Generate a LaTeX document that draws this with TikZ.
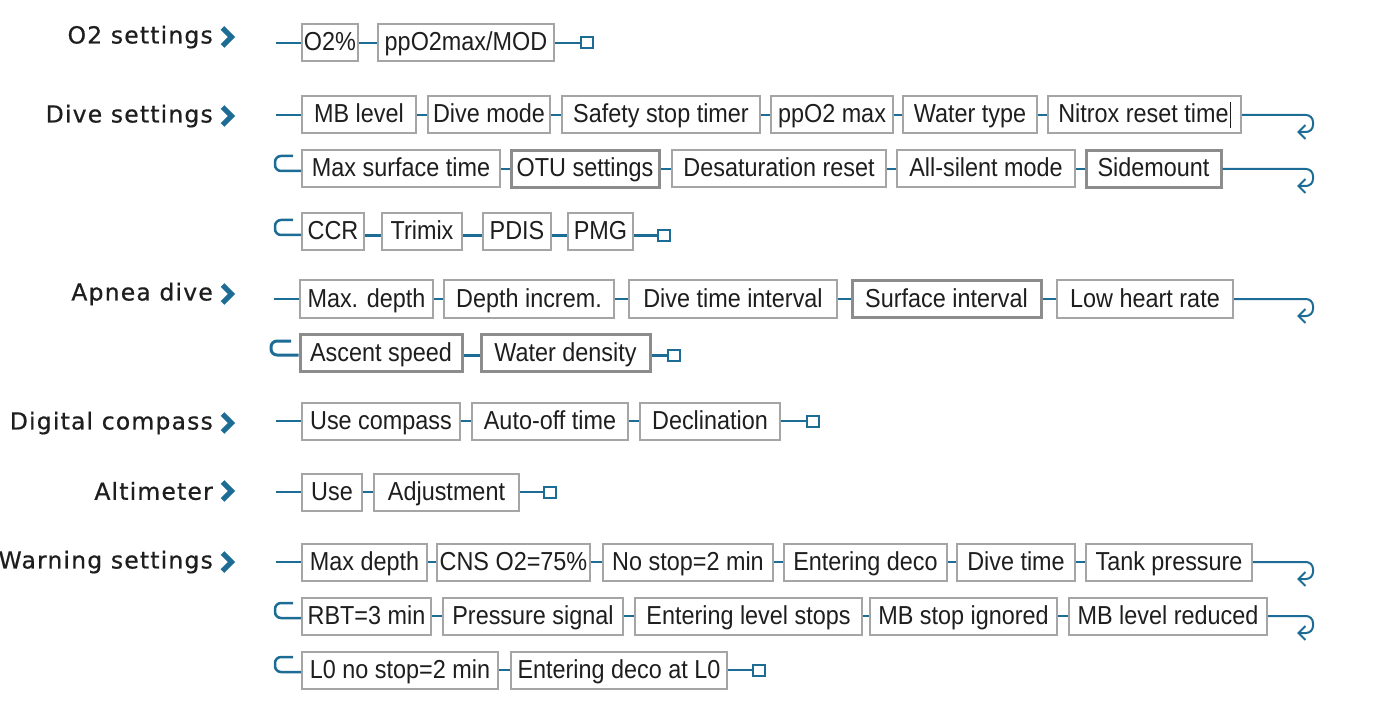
\documentclass[tikz,border=0pt]{standalone}
\usepackage{fontspec}
\newfontfamily\boxfont[FakeStretch=0.9]{Liberation Sans}
\newfontfamily\labfont[LetterSpace=5,FakeBold=0.6]{DejaVu Sans}
\usetikzlibrary{arrows.meta}
\definecolor{cblue}{HTML}{1C6C96}
\definecolor{cgray}{HTML}{A5A5A5}
\definecolor{cdark}{HTML}{8C8C8C}
\definecolor{ctext}{HTML}{1E1E1E}
\newcommand\bx[6][]{\node[box,#1,minimum width={#4-#3}] (#2) at ({(#3+#4)/2},#5) {#6};}
\begin{document}
\begin{tikzpicture}[x=1pt,y=-1pt,
  box/.style={draw=cgray,line width=2pt,fill=white,minimum height=37pt,inner xsep=2pt,inner ysep=0pt,
    text height=21pt,text depth=5pt,
    font=\boxfont\fontsize{26}{26}\selectfont,text=ctext},
  heavybox/.style={draw=cdark,line width=3pt},
  conn/.style={draw=cblue,line width=2pt},
  curl/.style={conn,rounded corners=7pt,-{Straight Barb[length=7pt,width=14pt,line width=2pt]}},
  hook/.style={conn,line width=2.5pt,rounded corners=6pt},
  endsq/.style={draw=cblue,line width=2pt,fill=white,minimum width=12pt,minimum height=11pt,inner sep=0pt},
  lab/.style={anchor=east,inner sep=0pt,font=\labfont\fontsize{23.5}{23.5}\selectfont,text=ctext},
  chev/.style={draw=cblue,line width=5pt,miter limit=10}]
\useasboundingbox (0,0) rectangle (1378,703);

% ---------- labels ----------
\node[lab] (l1) at (213,37) {O2 settings};
\node[lab] (l2) at (213,116) {Dive settings};
\node[lab] (l3) at (213,294) {Apnea dive};
\node[lab] (l4) at (213,423) {Digital compass};
\node[lab] (l5) at (213,491) {Altimeter};
\node[lab] (l6) at (213,562) {Warning settings};
\foreach \c in {37,116,294,423,491,562}
  \draw[chev] (222.5,\c-9) -- (231.5,\c) -- (222.5,\c+9);

% ---------- O2 settings ----------
\coordinate (s1) at (276,43);
\bx{o1}{302}{358}{43}{O2\%}
\bx{o2}{378}{554}{43}{ppO2max/MOD}
\node[endsq] (e1) at (587,43) {};
\draw[conn] (s1) -- (o1.west);
\draw[conn] (o1.east) -- (o2.west);
\draw[conn] (o2.east) -- (e1.west);

% ---------- Dive settings ----------
\coordinate (s2) at (276,115);
\bx{d1}{302}{416}{115}{MB level}
\bx{d2}{428}{550}{115}{Dive mode}
\bx{d3}{562}{760}{115}{Safety stop timer}
\bx{d4}{771}{893}{115}{ppO2 max}
\bx{d5}{903}{1037}{115}{Water type}
\bx{d6}{1048}{1241}{115}{Nitrox reset time\kern1pt\rule[-5pt]{1pt}{26pt}}
\draw[conn] (s2) -- (d1.west);
\draw[conn] (d1.east) -- (d2.west);
\draw[conn] (d2.east) -- (d3.west);
\draw[conn] (d3.east) -- (d4.west);
\draw[conn] (d4.east) -- (d5.west);
\draw[conn] (d5.east) -- (d6.west);
\coordinate (c1) at (1297,132);
\draw[curl] (d6.east) -- (1313,115) -- (1313,132) -- (c1);

\coordinate (h1) at (293,156);
\bx{d7}{302}{500}{169}{Max surface time}
\bx[heavybox]{d8}{511}{659}{169}{OTU settings\hspace{14pt}}
\bx{d9}{672}{886}{169}{Desaturation reset}
\bx{d10}{897}{1075}{169}{All-silent mode}
\bx[heavybox]{d11}{1086}{1221}{169}{Sidemount}
\draw[hook] (h1) -- (275,156) -- (275,171) -- (d7.west |- 0,171);
\draw[conn] (d7.east) -- (d8.west);
\draw[conn] (d8.east) -- (d9.west);
\draw[conn] (d9.east) -- (d10.west);
\draw[conn] (d10.east) -- (d11.west);
\coordinate (c2) at (1297,186);
\draw[curl] (d11.east) -- (1313,169) -- (1313,186) -- (c2);

\coordinate (h2) at (293,220);
\bx{d12}{302}{364}{232}{CCR}
\bx{d13}{382}{462}{232}{Trimix}
\bx{d14}{483}{551}{232}{PDIS}
\bx{d15}{568}{633}{232}{PMG}
\node[endsq] (e2) at (664,236) {};
\draw[hook] (h2) -- (275,220) -- (275,235) -- (d12.west |- 0,235);
\draw[conn,line width=3pt] (d12.east |- e2) -- (d13.west |- e2);
\draw[conn,line width=3pt] (d13.east |- e2) -- (d14.west |- e2);
\draw[conn,line width=3pt] (d14.east |- e2) -- (d15.west |- e2);
\draw[conn,line width=3pt] (d15.east |- e2) -- (e2.west);

% ---------- Apnea dive ----------
\coordinate (s3) at (274,299);
\bx{a1}{300}{433}{299}{Max. depth}
\bx{a2}{444}{614}{299}{Depth increm.}
\bx{a3}{629}{837}{299}{Dive time interval}
\bx[heavybox]{a4}{852}{1041}{299}{Surface interval}
\bx{a5}{1057}{1233}{299}{Low heart rate}
\draw[conn] (s3) -- (a1.west);
\draw[conn] (a1.east) -- (a2.west);
\draw[conn] (a2.east) -- (a3.west);
\draw[conn] (a3.east) -- (a4.west);
\draw[conn] (a4.east) -- (a5.west);
\coordinate (c3) at (1297,316);
\draw[curl] (a5.east) -- (1313,299) -- (1313,316) -- (c3);

\coordinate (h3) at (291,341);
\bx[heavybox]{a6}{300}{462}{353}{Ascent speed}
\bx[heavybox]{a7}{481}{650}{353}{Water density}
\node[endsq] (e3) at (674,355) {};
\draw[hook,line width=3pt] (h3) -- (271,341) -- (271,355) -- (a6.west |- e3);
\draw[conn,line width=3pt] (a6.east |- e3) -- (a7.west |- e3);
\draw[conn,line width=3pt] (a7.east |- e3) -- (e3.west);

% ---------- Digital compass ----------
\coordinate (s4) at (276,421);
\bx{g1}{302}{460}{421}{Use compass}
\bx{g2}{472}{628}{421}{Auto-off time}
\bx{g3}{640}{780}{421}{Declination}
\node[endsq] (e4) at (813,421) {};
\draw[conn] (s4) -- (g1.west);
\draw[conn] (g1.east) -- (g2.west);
\draw[conn] (g2.east) -- (g3.west);
\draw[conn] (g3.east) -- (e4.west);

% ---------- Altimeter ----------
\coordinate (s5) at (276,492);
\bx{t1}{302}{362}{492}{Use}
\bx{t2}{374}{519}{492}{Adjustment}
\node[endsq] (e5) at (550,492) {};
\draw[conn] (s5) -- (t1.west);
\draw[conn] (t1.east) -- (t2.west);
\draw[conn] (t2.east) -- (e5.west);

% ---------- Warning settings ----------
\coordinate (s6) at (276,562);
\bx{w1}{302}{427}{562}{Max depth}
\bx{w2}{437}{590}{562}{CNS O2=75\%}
\bx{w3}{603}{773}{562}{No stop=2 min}
\bx{w4}{784}{947}{562}{Entering deco}
\bx{w5}{957}{1075}{562}{Dive time}
\bx{w6}{1086}{1252}{562}{Tank pressure}
\draw[conn] (s6) -- (w1.west);
\draw[conn] (w1.east) -- (w2.west);
\draw[conn] (w2.east) -- (w3.west);
\draw[conn] (w3.east) -- (w4.west);
\draw[conn] (w4.east) -- (w5.west);
\draw[conn] (w5.east) -- (w6.west);
\coordinate (c6) at (1297,579);
\draw[curl] (w6.east) -- (1313,562) -- (1313,579) -- (c6);

\coordinate (h6) at (293,603);
\bx{w7}{302}{431}{616}{RBT=3 min}
\bx{w8}{443}{623}{616}{Pressure signal}
\bx{w9}{635}{862}{616}{Entering level stops}
\bx{w10}{870}{1057}{616}{MB stop ignored}
\bx{w11}{1069}{1267}{616}{MB level reduced}
\draw[hook] (h6) -- (275,603) -- (275,618) -- (w7.west |- 0,618);
\draw[conn] (w7.east) -- (w8.west);
\draw[conn] (w8.east) -- (w9.west);
\draw[conn] (w9.east) -- (w10.west);
\draw[conn] (w10.east) -- (w11.west);
\coordinate (c7) at (1297,633);
\draw[curl] (w11.east) -- (1313,616) -- (1313,633) -- (c7);

\coordinate (h7) at (293,657);
\bx{w12}{302}{498}{670}{L0 no stop=2 min}
\bx{w13}{511}{727}{670}{Entering deco at L0}
\node[endsq] (e7) at (759,670) {};
\draw[hook] (h7) -- (275,657) -- (275,672) -- (w12.west |- 0,672);
\draw[conn] (w12.east) -- (w13.west);
\draw[conn] (w13.east) -- (e7.west);
\end{tikzpicture}
\end{document}
